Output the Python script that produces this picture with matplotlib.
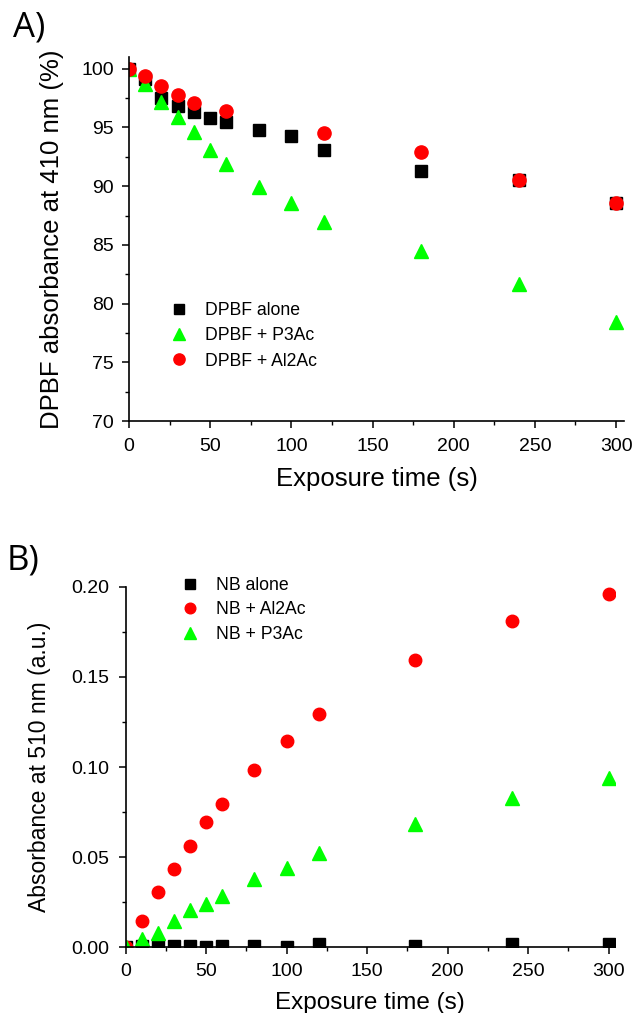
import matplotlib
matplotlib.use("Agg")
import matplotlib.pyplot as plt
from matplotlib.ticker import MultipleLocator

plt.rcParams['font.family'] = ['Liberation Sans', 'DejaVu Sans']

# Panel A data
time_a = [0, 10, 20, 30, 40, 50, 60, 80, 100, 120, 180, 240, 300]
dpbf_alone = [100, 99.1, 97.5, 96.85, 96.3, 95.8, 95.5, 94.75, 94.3, 93.07, 91.3, 90.5, 88.55]
dpbf_p3ac = [100, 98.7, 97.2, 95.9, 94.6, 93.1, 91.9, 89.9, 88.6, 86.95, 84.45, 81.7, 78.45]
time_a_al = [0, 10, 20, 30, 40, 60, 120, 180, 240, 300]
dpbf_al2ac = [100, 99.4, 98.5, 97.75, 97.05, 96.4, 94.5, 92.9, 90.5, 88.55]

# Panel B data
time_b = [0, 10, 20, 30, 40, 50, 60, 80, 100, 120, 180, 240, 300]
nb_alone = [0.0, 0.0006, 0.0012, 0.0006, 0.0008, 0.0005, 0.0006, 0.0006, 0.0005, 0.0018, 0.0010, 0.0020, 0.0020]
nb_al2ac = [0.0, 0.0148, 0.0305, 0.0437, 0.0563, 0.0695, 0.0797, 0.0985, 0.1145, 0.1292, 0.1595, 0.1810, 0.1960]
nb_p3ac = [0.0, 0.0045, 0.0082, 0.0147, 0.0205, 0.0240, 0.0285, 0.0378, 0.0440, 0.0522, 0.0682, 0.0830, 0.0942]

xticks = [0, 50, 100, 150, 200, 250, 300]

fig = plt.figure(figsize=(6.34, 10.13), dpi=100)

# ---------- Panel A ----------
axA = fig.add_axes([0.2035, 0.5844, 0.781, 0.3593])
axA.plot(time_a, dpbf_alone, 's', color='black', ms=8.5, mec='black', label='DPBF alone')
axA.plot(time_a, dpbf_p3ac, '^', color='#00ff00', ms=10.5, mec='#00ff00', label='DPBF + P3Ac')
axA.plot(time_a_al, dpbf_al2ac, 'o', color='#ff0000', ms=9.5, mec='#ff0000', label='DPBF + Al2Ac')
axA.set_xlim(0, 305)
axA.set_ylim(70, 101)
axA.set_xticks(xticks)
axA.set_yticks([70, 75, 80, 85, 90, 95, 100])
axA.xaxis.set_minor_locator(MultipleLocator(25))
axA.yaxis.set_minor_locator(MultipleLocator(2.5))
axA.set_xlabel('Exposure time (s)', fontsize=18.5, labelpad=9)
axA.set_ylabel('DPBF absorbance at 410 nm (%)', fontsize=18.5, labelpad=12)
axA.legend(loc='upper left', bbox_to_anchor=(0.065, 0.352), frameon=False, fontsize=12.7,
           handlelength=1.0, handletextpad=1.0, borderpad=0, labelspacing=0.48, markerscale=0.85)

# ---------- Panel B ----------
axB = fig.add_axes([0.198, 0.0647, 0.772, 0.356])
axB.plot(time_b, nb_alone, 's', color='black', ms=8, mec='black', label='NB alone')
axB.plot(time_b, nb_al2ac, 'o', color='#ff0000', ms=9, mec='#ff0000', label='NB + Al2Ac')
axB.plot(time_b, nb_p3ac, '^', color='#00ff00', ms=10, mec='#00ff00', label='NB + P3Ac')
axB.set_xlim(0, 304)
axB.set_ylim(0, 0.2)
axB.set_xticks(xticks)
axB.set_yticks([0.0, 0.05, 0.10, 0.15, 0.20])
axB.set_yticklabels(['0.00', '0.05', '0.10', '0.15', '0.20'])
axB.xaxis.set_minor_locator(MultipleLocator(25))
axB.yaxis.set_minor_locator(MultipleLocator(0.025))
axB.set_xlabel('Exposure time (s)', fontsize=17.5, labelpad=9)
axB.set_ylabel('Absorbance at 510 nm (a.u.)', fontsize=16.5, labelpad=14)
axB.legend(loc='upper left', bbox_to_anchor=(0.095, 1.052), frameon=False, fontsize=12.7,
           handlelength=1.0, handletextpad=1.0, borderpad=0, labelspacing=0.42, markerscale=0.85)

for ax in (axA, axB):
    for s in ('top', 'right'):
        ax.spines[s].set_visible(False)
    for s in ('left', 'bottom'):
        ax.spines[s].set_linewidth(1.2)
    ax.tick_params(which='major', direction='out', length=5, width=1.1, labelsize=14)
    ax.tick_params(which='minor', direction='out', length=3, width=1.0)
axA.tick_params(axis='x', which='major', pad=7)
axA.tick_params(axis='y', which='major', pad=6)
axB.tick_params(axis='x', which='major', pad=6)
axB.tick_params(axis='y', which='major', pad=7)

fig.text(0.02, 0.99, 'A)', fontsize=25, family=['Open Sans', 'DejaVu Sans'], va='top', ha='left')
fig.text(0.011, 0.463, 'B)', fontsize=25, family=['Open Sans', 'DejaVu Sans'], va='top', ha='left')

fig.savefig('out.png', dpi=100)
